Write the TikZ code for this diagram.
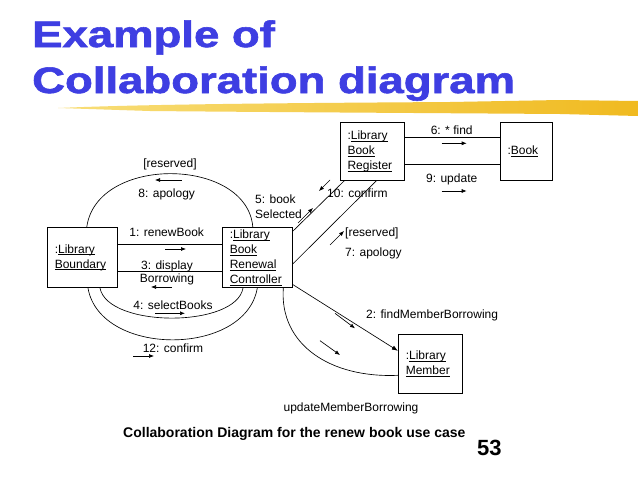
\documentclass[tikz,border=0pt]{standalone}
\usepackage{fontspec}
\setmainfont{Liberation Sans}
\newfontfamily\titlefont{Liberation Sans Bold}[FakeBold=1.5]
\usetikzlibrary{arrows.meta,calc}
\definecolor{titleblue}{RGB}{62,62,226}
\definecolor{brushA}{RGB}{248,222,120}
\definecolor{brushB}{RGB}{240,186,32}
\newcommand\ulin[1]{\leavevmode\setbox0\hbox{#1}\rlap{\rule[-2pt]{\wd0}{0.7pt}}\box0}
\begin{document}
\begin{tikzpicture}[x=1pt,y=-1pt,
  obj/.style={draw,line width=0.8pt,inner xsep=7.5pt,inner ysep=0pt,align=left,font=\fontsize{12}{15}\selectfont},
  lbl/.style={inner sep=0pt,font=\fontsize{12}{15}\selectfont},
  link/.style={line width=0.65pt},
  msg/.style={line width=0.65pt,-{Latex[length=5pt,width=4pt]}},
]
\useasboundingbox (0,0) rectangle (638,479);
\fill[white] (0,0) rectangle (638,479);

% title
\node[anchor=base west,inner sep=0pt,text=titleblue] (t1) at (32,47)
  {\scalebox{1.3}[1.05]{\titlefont\fontsize{35}{35}\selectfont Example of}};
\node[anchor=base west,inner sep=0pt,text=titleblue] (t2) at (32,93)
  {\scalebox{1.3}[1.05]{\titlefont\fontsize{35}{35}\selectfont Collaboration diagram}};
% brush stroke
\shade[left color=brushA,right color=brushB]
  (58,108) .. controls (150,104) and (300,103) .. (450,102)
  -- (560,100) -- (638,101) -- (638,116) -- (560,114)
  .. controls (420,113) and (250,112) .. (150,111) -- cycle;

% objects
\node[obj,text width=55pt,minimum height=60.4pt] (boundary) at (82.3,257.5)
  {:\ulin{Library}\\\ulin{Boundary}};
\node[obj,text width=55pt,minimum height=60.4pt] (controller) at (257.3,257.5)
  {:\ulin{Library}\\\ulin{Book}\\\ulin{Renewal}\\\ulin{Controller}};
\node[obj,text width=49pt,minimum height=57.7pt] (register) at (372,151.2)
  {:\ulin{Library}\\\ulin{Book}\\\ulin{Register}};
\node[obj,text width=37.3pt,minimum height=57.7pt] (book) at (526.2,151.2)
  {:\ulin{Book}};
\node[obj,text width=49pt,minimum height=59pt] (member) at (430.3,363.8)
  {:\ulin{Library}\\\ulin{Member}};

% links
\draw[link] ([yshift=13.5pt]boundary.east) -- ([yshift=13.5pt]controller.west);
\draw[link] ([yshift=-13.5pt]boundary.east) -- ([yshift=-13.5pt]controller.west);
\draw[link] ([xshift=4.5pt]boundary.north) .. controls +(10,-72) and +(-6,-70) .. ([xshift=-4.5pt]controller.north);
\draw[link] ([xshift=17.7pt]boundary.south) .. controls +(8,40) and +(-7,40) .. ([xshift=-14.3pt]controller.south);
\draw[link] ([xshift=5.7pt]boundary.south) .. controls +(12,69) and +(-12,69) .. (controller.south);
\draw[link] ([yshift=-4.4pt]controller.north east) -- ([xshift=5pt]register.south west);
\draw[link] ([yshift=-6.5pt]controller.east) -- ([xshift=4.7pt]register.south);
\draw[link] ([yshift=13.5pt]register.east) -- ([yshift=13.5pt]book.west);
\draw[link] ([yshift=-13.5pt]register.east) -- ([yshift=-13.5pt]book.west);
\draw[link,-{Latex[length=6pt,width=4.5pt]}] ([yshift=-27pt]controller.east) -- ([yshift=13pt]member.west);
\draw[link] ([xshift=26pt]controller.south) .. controls +(-4,57) and +(-67,3) .. ([yshift=-11.5pt]member.west);

% message arrows
\draw[msg] (165,249) -- (186,249);
\draw[msg] (172,287) -- (151,287);
\draw[msg] (181.7,180) -- (155,180);
\draw[msg] (155,313.3) -- (185,313.3);
\draw[msg] (133,356) -- (154,356);
\draw[msg] (298,223) -- (313,208);
\draw[msg] (330,180) -- (319,191);
\draw[msg] (330,245) -- (344,231);
\draw[msg] (441.7,143.3) -- (466.7,143.3);
\draw[msg] (441.7,191) -- (466.7,191);
\draw[msg] (335,313.3) -- (355,328.3);
\draw[msg] (320,340.7) -- (340,355);

% labels
\node[lbl,anchor=base] (l8a) at (170,167) {[reserved]};
\node[lbl,anchor=base] (l8b) at (166.7,197) {8: apology};
\node[lbl,anchor=base] (l1) at (166.7,236) {1: renewBook};
\node[lbl,anchor=base] (l3a) at (167,269) {3: display};
\node[lbl,anchor=base] (l3b) at (167,282) {Borrowing};
\node[lbl,anchor=base] (l4) at (173,309) {4: selectBooks};
\node[lbl,anchor=base] (l12) at (173,352.7) {12: confirm};
\node[lbl,anchor=base west] (l5a) at (255,203.5) {5: book};
\node[lbl,anchor=base west] (l5b) at (255,218) {Selected};
\node[lbl,anchor=base west] (l10) at (327,197) {10: confirm};
\node[lbl,anchor=base west] (l7a) at (345,236.5) {[reserved]};
\node[lbl,anchor=base west] (l7b) at (345,256.5) {7: apology};
\node[lbl,anchor=base] (l6) at (451.7,134) {6: * find};
\node[lbl,anchor=base] (l9) at (451.7,182) {9: update};
\node[lbl,anchor=base west] (l2) at (366,318) {2: findMemberBorrowing};
\node[lbl,anchor=base] (l11) at (351,411) {updateMemberBorrowing};

\node[anchor=base west,inner sep=0pt,font=\bfseries\fontsize{14}{16}\selectfont] (cap) at (123,437)
  {Collaboration Diagram for the renew book use case};
\node[anchor=base west,inner sep=0pt,font=\bfseries\fontsize{22}{24}\selectfont] (num) at (477,455.7) {53};
\end{tikzpicture}
\end{document}
